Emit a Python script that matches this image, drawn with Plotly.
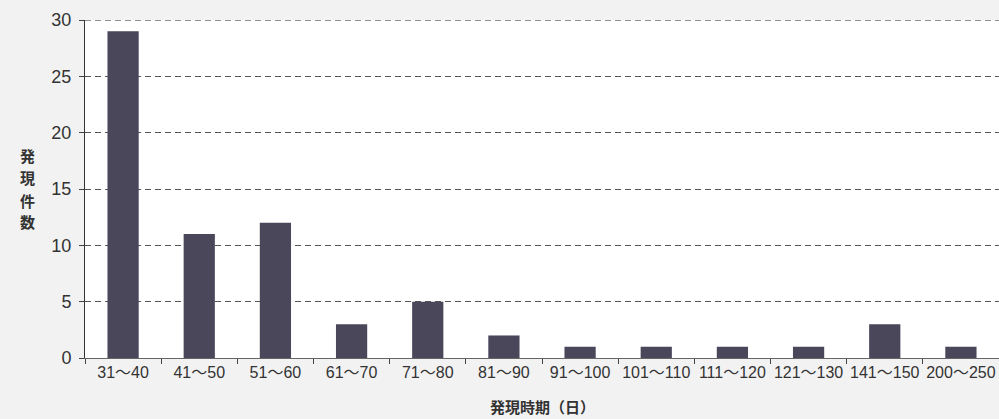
import plotly.graph_objects as go

# onset period (days) and number of cases
periods = ['31～40', '41～50', '51～60', '61～70', '71～80', '81～90',
           '91～100', '101～110', '111～120', '121～130', '141～150', '200～250']
counts = [29, 11, 12, 3, 5, 2, 1, 1, 1, 1, 3, 1]
y_ticks = [0, 5, 10, 15, 20, 25, 30]
y_title = '発現件数'
x_title = '発現時期（日）'

tick_font = 'Liberation Sans, Noto Sans CJK JP'
title_font = 'Noto Sans CJK JP'

fig = go.Figure(go.Bar(
    x=periods,
    y=counts,
    width=0.41,
    marker=dict(color='#4a475b', line=dict(width=0)),
))

fig.update_layout(
    width=999,
    height=419,
    margin=dict(l=85, r=0, t=20, b=61),
    paper_bgcolor='#f2f2f2',
    plot_bgcolor='#ffffff',
    font=dict(family=tick_font, size=16, color='#333333'),
    showlegend=False,
)

fig.update_xaxes(
    type='category',
    tickson='boundaries',
    ticks='outside',
    ticklen=5,
    tickcolor='#444444',
    showline=True,
    linecolor='#666666',
    linewidth=1,
    showgrid=False,
    tickangle=0,
    tickfont=dict(family=tick_font, size=16, color='#333333'),
)

fig.update_yaxes(
    range=[0, 30],
    tickvals=y_ticks,
    ticks='outside',
    ticklen=5,
    tickcolor='#444444',
    showline=True,
    linecolor='#333333',
    linewidth=1,
    showgrid=True,
    gridcolor='#555555',
    gridwidth=1,
    griddash='6px,4px',
    zeroline=False,
    ticklabelstandoff=4,
    tickfont=dict(family=tick_font, size=18, color='#333333'),
)

# dashed line at the top of the range (plotly skips the edge gridline)
fig.add_shape(
    type='line', xref='paper', yref='y',
    x0=0, x1=1, y0=y_ticks[-1], y1=y_ticks[-1],
    line=dict(color='#222222', width=1, dash='6px,4px'),
)

# y axis title, one character per line (plot area is 338px tall)
for i, ch in enumerate(y_title):
    fig.add_annotation(
        text=ch,
        xref='paper', yref='paper',
        x=-0.072, y=(358 - (156 + 22 * i)) / 338,
        showarrow=False,
        borderpad=0,
        font=dict(family=title_font, size=15, color='#333333', weight='bold'),
    )

# x axis title
fig.add_annotation(
    text=x_title,
    xref='paper', yref='paper',
    x=0.5, y=-0.143,
    yanchor='middle',
    showarrow=False,
    borderpad=0,
    font=dict(family=title_font, size=15, color='#333333', weight='bold'),
)

fig.write_html('out.html', config={'displayModeBar': False},
               post_script="document.body.style.margin='0px';")
